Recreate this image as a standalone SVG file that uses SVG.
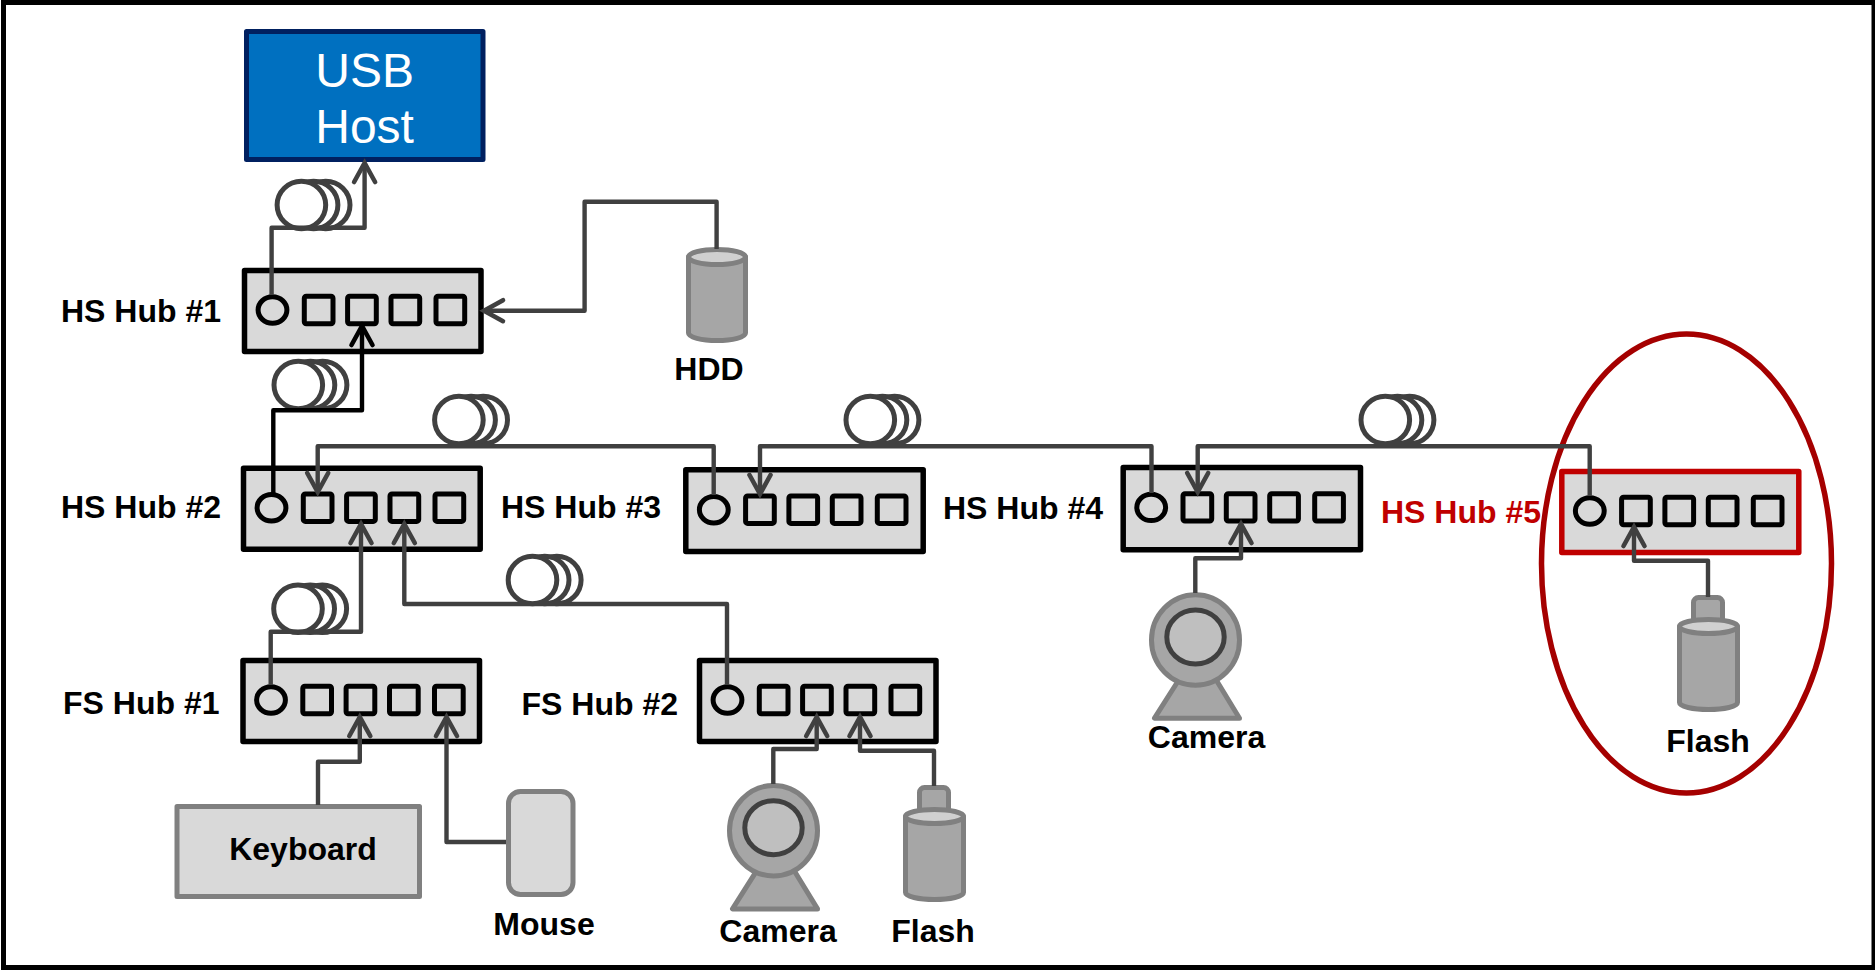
<svg xmlns="http://www.w3.org/2000/svg" xmlns:xlink="http://www.w3.org/1999/xlink" width="1875" height="971" viewBox="0 0 1875 971">
<style>
text{font-family:"Liberation Sans",Arial,sans-serif;font-weight:700;font-size:32px;fill:#000}
.c{text-anchor:middle}
.red{fill:#c00000}
.hub{fill:#d9d9d9;stroke:#000;stroke-width:5.5;stroke-linejoin:round}
.hub5{stroke:#c00000}
.port{fill:none;stroke:#000;stroke-width:5;stroke-linejoin:round}
.dev{fill:#a6a6a6;stroke:#808080;stroke-width:5;stroke-linejoin:round}
.lite{fill:#d9d9d9;stroke:#808080;stroke-width:5;stroke-linejoin:round}
.top{fill:#d0d0d0;stroke:#808080;stroke-width:5}
.lens{fill:#bfbfbf;stroke:#404040;stroke-width:5}
.wire{fill:none;stroke:#404040;stroke-width:4.4;stroke-linejoin:round;marker-end:url(#arrow)}
.black{stroke:#000;marker-end:url(#arrowb)}
.coil ellipse{fill:#fff;stroke:#404040;stroke-width:5}
</style>
<defs>
<marker id="arrow" markerUnits="userSpaceOnUse" markerWidth="40" markerHeight="40" refX="0" refY="0" viewBox="-30 -20 40 40" orient="auto"><path d="M-19,-10.5L0,0L-19,10.5" fill="none" stroke="#404040" stroke-width="4.6" stroke-linecap="round"/></marker>
<marker id="arrowb" markerUnits="userSpaceOnUse" markerWidth="40" markerHeight="40" refX="0" refY="0" viewBox="-30 -20 40 40" orient="auto"><path d="M-19,-10.5L0,0L-19,10.5" fill="none" stroke="#000" stroke-width="4.6" stroke-linecap="round"/></marker>
<g id="ports">
<ellipse class="port" cx="30.5" cy="42" rx="14.4" ry="13.2"/>
<rect class="port" x="62.3" y="28.3" width="28.7" height="27.4" rx="2"/>
<rect class="port" x="105.6" y="28.3" width="28.7" height="27.4" rx="2"/>
<rect class="port" x="149" y="28.3" width="28.7" height="27.4" rx="2"/>
<rect class="port" x="194" y="28.3" width="28.7" height="27.4" rx="2"/>
</g>
<g id="coilshape" class="coil">
<ellipse cx="24.3" cy="0" rx="24.3" ry="23.8"/>
<ellipse cx="12.2" cy="0" rx="24.3" ry="23.8"/>
<ellipse cx="0" cy="0" rx="24.3" ry="23.8"/>
</g>
<g id="flashshape">
<rect class="dev" x="1693.5" y="597.5" width="29" height="30" rx="5"/>
<path class="dev" d="M1679.5,626.5V702.5A29,7 0 0 0 1737.5,702.5V626.5Z"/>
<ellipse class="top" cx="1708.5" cy="626.5" rx="29" ry="7"/>
</g>
<g id="camerashape">
<path class="dev" d="M1180,678L1154.5,718.2H1239.5L1215,678Z"/>
<ellipse class="dev" cx="1195.5" cy="640" rx="44" ry="45.2"/>
<ellipse class="lens" cx="1195.5" cy="637" rx="28.7" ry="27"/>
</g>
</defs>
<rect x="3.5" y="2.5" width="1870.5" height="965" fill="#fff" stroke="#000" stroke-width="5"/>
<g id="highlight"><ellipse cx="1686.5" cy="563.5" rx="145" ry="229.5" fill="none" stroke="#a50000" stroke-width="5.5"/></g>
<g id="usb-host">
<rect x="246.5" y="31.5" width="236.5" height="128" fill="#0070c0" stroke="#002060" stroke-width="5" stroke-linejoin="round"/>
<text class="c" x="364.6" y="87" style="font-weight:400;font-size:48px;fill:#fff">USB</text>
<text class="c" x="364.6" y="143" style="font-weight:400;font-size:48px;fill:#fff">Host</text>
</g>
<g id="hs-hub-1"><rect class="hub" x="244.5" y="270.5" width="236.5" height="81"/><use xlink:href="#ports" href="#ports" transform="translate(242,268)"/><text x="61" y="321.7">HS Hub #1</text></g>
<g id="hs-hub-2"><rect class="hub" x="243.5" y="468.2" width="236.7" height="81"/><use xlink:href="#ports" href="#ports" transform="translate(241,465.7)"/><text x="61" y="518.3">HS Hub #2</text></g>
<g id="hs-hub-3"><rect class="hub" x="685.8" y="469.8" width="237.4" height="81.7"/><use xlink:href="#ports" href="#ports" transform="translate(683.3,467.7)"/><text x="501" y="517.7">HS Hub #3</text></g>
<g id="hs-hub-4"><rect class="hub" x="1123.2" y="467.5" width="237.3" height="82.3"/><use xlink:href="#ports" href="#ports" transform="translate(1120.7,465.4)"/><text x="943" y="519">HS Hub #4</text></g>
<g id="hs-hub-5"><rect class="hub hub5" x="1561.8" y="471.5" width="237" height="81"/><use xlink:href="#ports" href="#ports" transform="translate(1559.3,469)"/><text class="red" x="1381" y="523.3">HS Hub #5</text></g>
<g id="fs-hub-1"><rect class="hub" x="243" y="660.5" width="236.5" height="81"/><use xlink:href="#ports" href="#ports" transform="translate(240.5,658)"/><text x="63" y="714">FS Hub #1</text></g>
<g id="fs-hub-2"><rect class="hub" x="699.5" y="660.5" width="236.5" height="81"/><use xlink:href="#ports" href="#ports" transform="translate(697,658)"/><text x="521.5" y="715">FS Hub #2</text></g>
<g id="hdd">
<path class="dev" d="M688.5,257V333A28.5,7.5 0 0 0 745.5,333V257Z"/>
<ellipse class="top" cx="717" cy="257" rx="28.5" ry="7.5"/>
<text class="c" x="709" y="380">HDD</text>
</g>
<g id="keyboard"><rect class="lite" x="177" y="806.5" width="242.5" height="90"/><text class="c" x="303" y="860">Keyboard</text></g>
<g id="mouse"><rect class="lite" x="508.5" y="791.5" width="64.5" height="103" rx="12"/><text class="c" x="544" y="935">Mouse</text></g>
<g id="camera-1"><use xlink:href="#camerashape" href="#camerashape" transform="translate(-422,190.7)"/><text class="c" x="778" y="942">Camera</text></g>
<g id="flash-1"><use xlink:href="#flashshape" href="#flashshape" transform="translate(-774,190)"/><text class="c" x="933" y="942">Flash</text></g>
<g id="camera-2"><use xlink:href="#camerashape" href="#camerashape"/><text class="c" x="1206.5" y="748">Camera</text></g>
<g id="flash-2"><use xlink:href="#flashshape" href="#flashshape"/><text class="c" x="1708" y="752">Flash</text></g>
<g id="connectors">
<use xlink:href="#coilshape" href="#coilshape" x="301.4" y="205"/>
<use xlink:href="#coilshape" href="#coilshape" x="298.3" y="385"/>
<use xlink:href="#coilshape" href="#coilshape" x="458.9" y="420"/>
<use xlink:href="#coilshape" href="#coilshape" x="870.3" y="420"/>
<use xlink:href="#coilshape" href="#coilshape" x="1385.3" y="420"/>
<use xlink:href="#coilshape" href="#coilshape" x="532.5" y="580"/>
<use xlink:href="#coilshape" href="#coilshape" x="298" y="608.8"/>
<path class="wire" d="M271.6,295V227.7H364.6V163"/>
<path class="wire black" d="M273.3,493V410.3H362V326"/>
<path class="wire" d="M716.6,249V201.7H584.6V310.7H484"/>
<path class="wire" d="M713.7,495V446.3H317.7V492"/>
<path class="wire" d="M1151.5,493V446.3H760V494"/>
<path class="wire" d="M1589.7,496V446.3H1197.7V492"/>
<path class="wire" d="M270.7,685V631.7H361V524"/>
<path class="wire" d="M727,685V604H404.3V524"/>
<path class="wire" d="M318,805V761.7H359.8V717"/>
<path class="wire" d="M506,842H446.5V717"/>
<path class="wire" d="M773.3,784V749H816.7V717"/>
<path class="wire" d="M934,786V750.7H860V717"/>
<path class="wire" d="M1195.3,593V558.3H1241V524"/>
<path class="wire" d="M1708,597V560.7H1634V527"/>
</g>
</svg>
